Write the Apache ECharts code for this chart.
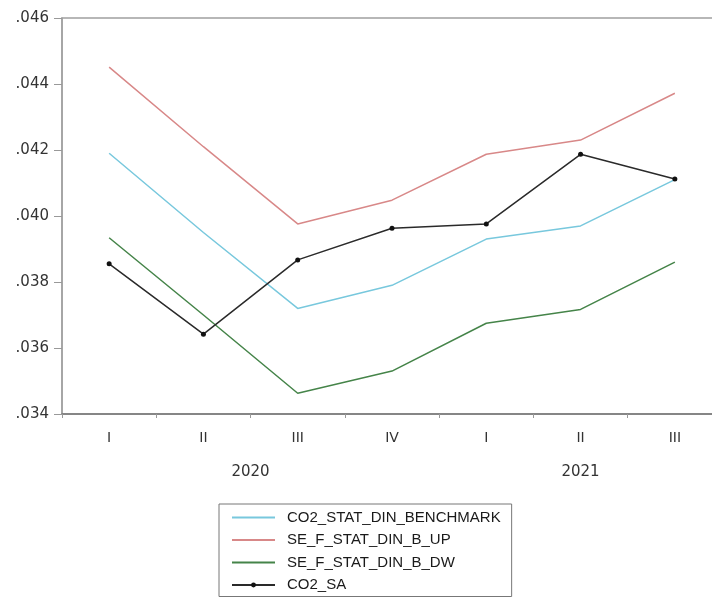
<!DOCTYPE html>
<html>
<head>
<meta charset="utf-8">
<script src="https://cdn.jsdelivr.net/npm/echarts@6/dist/echarts.min.js"></script>
<style>html,body{margin:0;padding:0;background:#fff}#c{width:712px;height:599px}</style>
</head>
<body>
<div id="c"></div>
<script>
var quarters = ['I', 'II', 'III', 'IV', 'I', 'II', 'III'];
var years = ['2020', '2021'];
var yearCenters = [1.5, 5];
var benchmark = [0.0419, 0.0395, 0.0372, 0.0379, 0.0393, 0.0397, 0.0411];
var bUp = [0.04451, 0.0421, 0.03976, 0.04048, 0.04187, 0.0423, 0.04372];
var bDw = [0.03934, 0.0370, 0.03463, 0.0353, 0.03675, 0.03717, 0.0386];
var co2Sa = [0.03855, 0.03642, 0.03867, 0.03963, 0.03976, 0.04187, 0.04112];
var yTicks = { min: 0.034, max: 0.046, step: 0.002 };

var font = "'Liberation Sans', Arial, sans-serif";
var dfont = "'DejaVu Sans', sans-serif";
var hidden = { color: 'rgba(0,0,0,0)', borderWidth: 0 };
var chart = echarts.init(document.getElementById('c'), null, { renderer: 'canvas' });
chart.setOption({
  animation: false,
  backgroundColor: '#fff',
  grid: { left: 62, top: 18, right: -10, bottom: 185, show: true, borderColor: '#a0a0a0', borderWidth: 1.5, outerBoundsMode: 'none', containLabel: false },
  xAxis: [{
    type: 'category', data: quarters, boundaryGap: true, position: 'bottom',
    axisLine: { lineStyle: { color: '#777', width: 1.5 } },
    axisTick: { show: true, interval: 0, length: 4, lineStyle: { color: '#999' } },
    axisLabel: { color: '#333', fontFamily: dfont, fontSize: 14, margin: 17, interval: 0 },
    splitLine: { show: false }
  }, {
    type: 'value', min: -0.5, max: 6.5, interval: 0.5, position: 'bottom', offset: 35,
    axisLine: { show: false }, axisTick: { show: false }, splitLine: { show: false },
    axisLabel: {
      color: '#333', fontFamily: dfont, fontSize: 15, margin: 16, showMinLabel: true, showMaxLabel: true,
      formatter: function (v) {
        for (var i = 0; i < yearCenters.length; i++) { if (Math.abs(v - yearCenters[i]) < 1e-6) return years[i]; }
        return '';
      }
    }
  }],
  yAxis: {
    type: 'value', min: yTicks.min, max: yTicks.max, interval: yTicks.step,
    axisLine: { show: true, onZero: false, lineStyle: { color: '#a0a0a0', width: 1.5 } },
    axisTick: { show: true, length: 8, lineStyle: { color: '#999' } },
    splitLine: { show: false },
    axisLabel: {
      color: '#333', fontFamily: dfont, fontSize: 15, margin: 13,
      formatter: function (v) { return v.toFixed(3).replace(/^0/, ''); }
    }
  },
  legend: {
    orient: 'vertical', left: 219, top: 504,
    padding: [6, 11, 4, 12], itemGap: 7.5, itemWidth: 43, itemHeight: 6,
    borderColor: '#777', borderWidth: 1, backgroundColor: '#fff',
    textStyle: { color: '#1a1a1a', fontFamily: font, fontSize: 15, lineHeight: 15, padding: [0, 0, 0, 7] },
    data: [
      { name: 'CO2_STAT_DIN_BENCHMARK', itemStyle: hidden },
      { name: 'SE_F_STAT_DIN_B_UP', itemStyle: hidden },
      { name: 'SE_F_STAT_DIN_B_DW', itemStyle: hidden },
      { name: 'CO2_SA' }
    ]
  },
  series: [
    { name: 'CO2_STAT_DIN_BENCHMARK', type: 'line', data: benchmark, symbol: 'none', lineStyle: { color: '#78c8dd', width: 1.5 }, itemStyle: { color: '#78c8dd' } },
    { name: 'SE_F_STAT_DIN_B_UP', type: 'line', data: bUp, symbol: 'none', lineStyle: { color: '#d88888', width: 1.5 }, itemStyle: { color: '#d88888' } },
    { name: 'SE_F_STAT_DIN_B_DW', type: 'line', data: bDw, symbol: 'none', lineStyle: { color: '#458449', width: 1.5 }, itemStyle: { color: '#458449' } },
    { name: 'CO2_SA', type: 'line', data: co2Sa, symbol: 'circle', symbolSize: 5, lineStyle: { color: '#2a2a2a', width: 1.5 }, itemStyle: { color: '#111' } }
  ]
});
</script>
</body>
</html>
